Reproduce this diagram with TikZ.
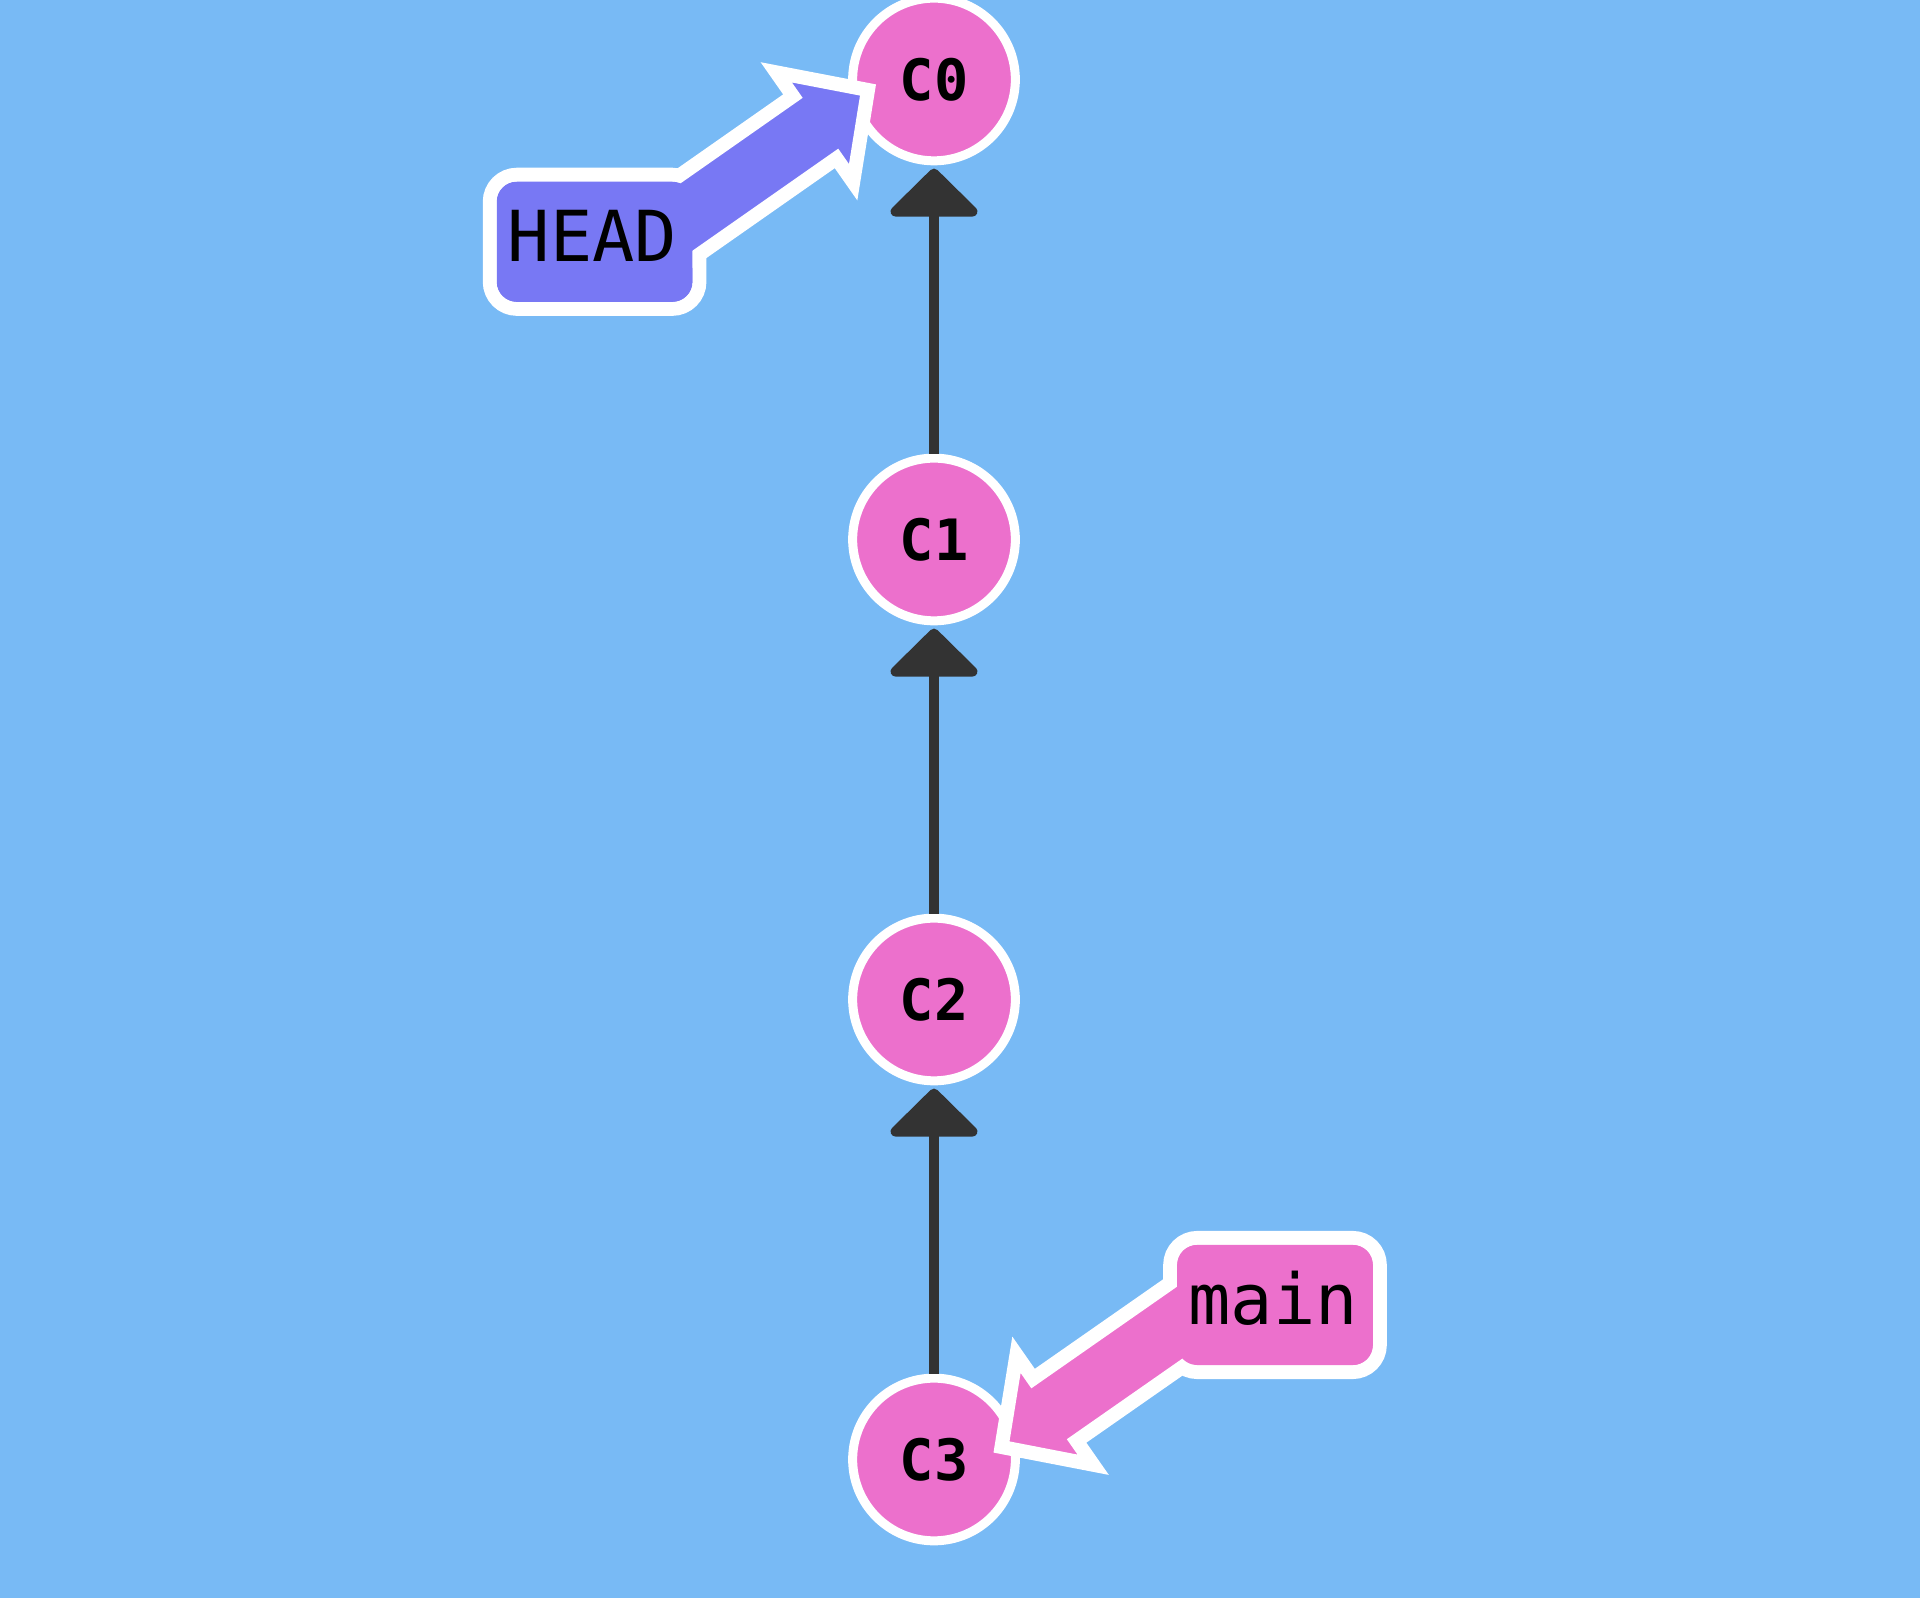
\documentclass[tikz,border=0pt]{standalone}
\usepackage{fontspec}
\newfontfamily\gitmono{DejaVu Sans Mono}
\usetikzlibrary{arrows.meta,calc}
\definecolor{bgblue}{HTML}{78BAF5}
\definecolor{commitpink}{HTML}{EC70CC}
\definecolor{headblue}{HTML}{7878F4}
\definecolor{linkgray}{HTML}{333333}
% fat branch arrow: #1 prefix, #2 tail coordinate, #3 tip coordinate, #4 colour
\newcommand\fatarrow[4]{%
  \coordinate (#1b) at ($(#3)!0.65cm!(#2)$);
  \filldraw[fill=#4, draw=white, line width=0.14cm, line join=miter, miter limit=20]
    ($(#2)!0.38cm!90:(#3)$) -- ($(#1b)!0.38cm!90:(#3)$) -- ($(#1b)!0.67cm!90:(#3)$) -- (#3)
    -- ($(#1b)!0.67cm!-90:(#3)$) -- ($(#1b)!0.38cm!-90:(#3)$) -- ($(#2)!0.38cm!-90:(#3)$) -- cycle;
}
\begin{document}
\begin{tikzpicture}[x=0.01cm, y=-0.01cm,
  commit/.style={circle, fill=commitpink, draw=white, line width=0.09cm, minimum size=1.626cm,
    inner sep=0pt, outer sep=0.045cm, text=black,
    font=\gitmono\bfseries\fontsize{16.2pt}{18pt}\selectfont},
  branchbox/.style={rectangle, rounded corners=0.27cm, draw=white, line width=0.14cm,
    minimum width=2.095cm, minimum height=1.34cm, inner sep=0pt, outer sep=0pt},
  branchtext/.style={font=\gitmono\fontsize{20pt}{22pt}\selectfont, text=black, inner sep=0pt, anchor=base},
  link/.style={draw=linkgray, line width=0.10cm, -{Triangle[length=0.50cm, width=0.99cm, round]}, shorten >=0.033cm}]
\fill[bgblue] (0,0) rectangle (1920,1598);
\useasboundingbox (0,0) rectangle (1920,1598);
\node[commit] (C0) at (934,79.5) {C0};
\node[commit] (C1) at (934,539.5) {C1};
\node[commit] (C2) at (934,999.5) {C2};
\node[commit] (C3) at (934,1459.5) {C3};
\draw[link] (C1) -- (C0);
\draw[link] (C2) -- (C1);
\draw[link] (C3) -- (C2);
\node[branchbox, fill=headblue] (HEAD) at (594.6,241.8) {};
\node[branchbox, fill=commitpink] (main) at (1275,1305) {};
\coordinate (HEADtail) at ($(HEAD.center)+(60.5,-2.8)$);
\coordinate (HEADtip) at ($(C0.center)+(-66,10.5)$);
\coordinate (maintail) at ($(main.center)+(-60,-7)$);
\coordinate (maintip) at ($(C3.center)+(67.5,-12.5)$);
\fatarrow{HEADarr}{HEADtail}{HEADtip}{headblue}
\fatarrow{mainarr}{maintail}{maintip}{commitpink}
\fill[headblue, rounded corners=0.2cm] ($(HEAD.south west)+(7,-7)$) rectangle ($(HEAD.north east)+(-7,7)$);
\fill[commitpink, rounded corners=0.2cm] ($(main.south west)+(7,-7)$) rectangle ($(main.north east)+(-7,7)$);
\node[branchtext] (HEADlbl) at ($(HEAD.center)+(-2,19.5)$) {HEAD};
\node[branchtext] (mainlbl) at ($(main.center)+(-2,19.5)$) {main};
\end{tikzpicture}
\end{document}
